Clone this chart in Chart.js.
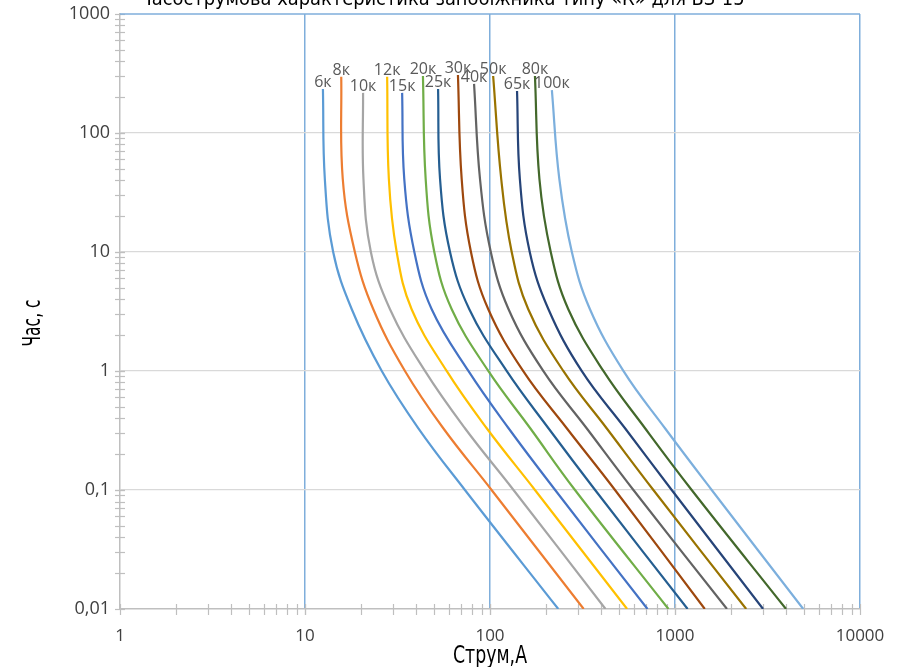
<!DOCTYPE html>
<html>
<head>
<meta charset="utf-8">
<script src="https://cdn.jsdelivr.net/npm/chart.js@4.4.1/dist/chart.umd.min.js"></script>
<style>
  html, body { margin: 0; padding: 0; background: #fff; }
</style>
</head>
<body>
<canvas id="grafik" width="902" height="667"></canvas>
<script>
// назви плавких вставок та кольори кривих
const nazvy = ['6к', '8к', '10к', '12к', '15к', '20к', '25к', '30к', '40к', '50к', '65к', '80к', '100к'];
const kolory = ['#5B9BD5', '#ED7D31', '#A5A5A5', '#FFC000', '#4472C4', '#70AD47', '#255E91',
                '#9E480E', '#636363', '#997300', '#264478', '#43682B', '#7CAFDD'];

// час початку кожної кривої (верхня точка), с
const chasPochatku = [234, 296, 217, 296, 217, 301, 234, 307, 258, 301, 225, 301, 229];
// спільні значення часу для решти точок, с
const chasy = [41, 10, 3.3, 1, 0.33, 0.1, 0.01];

// струм, А: перше значення - верхня точка, далі для кожного значення з "chasy"
const strum6k   = [12.5, 12.8, 14.2, 17.9, 26.0, 41.0, 73.2, 234];
const strum8k   = [15.7, 16.0, 18.6, 23.4, 34.7, 55.9, 102, 321];
const strum10k  = [20.6, 20.7, 22.7, 28.8, 44.5, 73.2, 134, 421];
const strum12k  = [27.8, 28.4, 31.3, 37.7, 58.3, 96.0, 175, 551];
const strum15k  = [33.5, 34.4, 39.0, 48.4, 76.4, 126, 225, 710];
const strum20k  = [43.4, 44.9, 50.0, 62.1, 97.9, 165, 288, 922];
const strum25k  = [52.4, 53.7, 60.8, 77.3, 123, 207, 370, 1170];
const strum30k  = [67.1, 70.3, 78.9, 97.9, 151, 260, 474, 1449];
const strum40k  = [82, 88.3, 101, 126, 194, 333, 596, 1910];
const strum50k  = [104, 115, 131, 161, 249, 427, 764, 2426];
const strum65k  = [140, 145, 164, 207, 313, 537, 960, 2993];
const strum80k  = [175, 185, 213, 265, 410, 689, 1231, 3984];
const strum100k = [216, 237, 277, 347, 526, 883, 1579, 4935];

const strumy = [strum6k, strum8k, strum10k, strum12k, strum15k, strum20k, strum25k,
                strum30k, strum40k, strum50k, strum65k, strum80k, strum100k];

const nazvaGrafika = 'Часострумова характеристика запобіжника типу «К» для ВЗ-15';
const nazvaX = 'Струм,А';
const nazvaY = 'Час, с';

const vuzkyi = "'DejaVu Sans', sans-serif";
const zvychainyi = "'Open Sans', 'Noto Sans', sans-serif";

const cheDesyatok = v => Math.abs(Math.log10(v) - Math.round(Math.log10(v))) < 1e-6;

const datasets = strumy.map((s, i) => ({
  label: nazvy[i],
  data: s.map((a, j) => ({ x: a, y: j === 0 ? chasPochatku[i] : chasy[j - 1] })),
  borderColor: kolory[i],
  backgroundColor: kolory[i],
  borderWidth: 2.2,
  pointRadius: 0,
  showLine: true,
  fill: false,
  tension: 0.4
}));

// вузький текст: стискаємо по горизонталі до потрібної ширини
const vuzkyiTekst = (ctx, tekst, x, y, rozmir, shyryna, kut) => {
  ctx.save();
  ctx.font = rozmir + 'px ' + vuzkyi;
  const w = ctx.measureText(tekst).width;
  ctx.translate(x, y);
  if (kut) ctx.rotate(kut);
  ctx.scale(shyryna / w, 1);
  ctx.textAlign = 'center';
  ctx.textBaseline = 'alphabetic';
  ctx.fillStyle = '#000';
  ctx.fillText(tekst, 0, 0);
  ctx.restore();
};

// дрібні поділки на осях, верхня рамка, підписи кривих та заголовки
const dodatky = {
  id: 'dodatky',
  beforeDatasetsDraw(chart) {
    const { ctx, chartArea, scales } = chart;
    ctx.save();
    ctx.strokeStyle = '#BFBFBF';
    ctx.lineWidth = 1.2;
    for (let d = 1; d <= 1000; d *= 10) {
      for (let m = 1; m <= 10; m++) {
        const px = Math.round(scales.x.getPixelForValue(d * m)) + 0.5;
        ctx.beginPath();
        ctx.moveTo(px, chartArea.bottom - 5);
        ctx.lineTo(px, chartArea.bottom + 6);
        ctx.stroke();
      }
    }
    for (let d = 0.01; d < 999; d *= 10) {
      for (let m = 1; m <= 10; m++) {
        const py = Math.round(scales.y.getPixelForValue(d * m)) + 0.5;
        ctx.beginPath();
        ctx.moveTo(chartArea.left - 5, py);
        ctx.lineTo(chartArea.left + 5, py);
        ctx.stroke();
      }
    }
    ctx.strokeStyle = '#7FAEDB';
    ctx.lineWidth = 1.5;
    ctx.beginPath();
    ctx.moveTo(chartArea.left, chartArea.top);
    ctx.lineTo(chartArea.right, chartArea.top);
    ctx.stroke();
    ctx.restore();
  },
  afterDatasetsDraw(chart) {
    const { ctx } = chart;
    ctx.save();
    ctx.font = '16px ' + zvychainyi;
    ctx.fillStyle = '#595959';
    ctx.textAlign = 'center';
    ctx.textBaseline = 'alphabetic';
    chart.data.datasets.forEach((ds, i) => {
      const p = chart.getDatasetMeta(i).data[0];
      ctx.fillText(ds.label, p.x, p.y - 2);
    });
    ctx.restore();
    vuzkyiTekst(ctx, nazvaGrafika, 442, 5, 20, 605, 0);
    vuzkyiTekst(ctx, nazvaX, 490, 663, 24, 74, 0);
    vuzkyiTekst(ctx, nazvaY, 40, 323, 24, 47, -Math.PI / 2);
  }
};

new Chart(document.getElementById('grafik'), {
  type: 'scatter',
  data: { datasets },
  options: {
    responsive: false,
    animation: false,
    devicePixelRatio: 1,
    layout: { padding: { top: 0, right: 42, left: 0, bottom: 0 } },
    plugins: {
      legend: { display: false },
      tooltip: { enabled: false }
    },
    scales: {
      x: {
        type: 'logarithmic',
        min: 1,
        max: 10000,
        grid: {
          drawTicks: false,
          lineWidth: 1.5,
          color: c => (c.tick && cheDesyatok(c.tick.value) && c.tick.value > 1) ? '#7FAEDB' : 'rgba(0,0,0,0)'
        },
        border: { color: '#BFBFBF', width: 1.5 },
        ticks: {
          autoSkip: false,
          maxRotation: 0,
          padding: 17,
          color: '#404040',
          font: { family: zvychainyi, size: 17 },
          callback: v => cheDesyatok(v) ? String(Math.round(v)) : ''
        },
        afterFit: s => { s.height = 58; }
      },
      y: {
        type: 'logarithmic',
        min: 0.01,
        max: 1000,
        grid: {
          drawTicks: true,
          tickLength: 6,
          tickColor: 'rgba(0,0,0,0)',
          lineWidth: 1.3,
          color: c => {
            if (!c.tick) return 'rgba(0,0,0,0)';
            const v = c.tick.value;
            return (cheDesyatok(v) && v > 0.05 && v < 500) ? '#D9D9D9' : 'rgba(0,0,0,0)';
          }
        },
        border: { color: '#BFBFBF', width: 1.5 },
        ticks: {
          autoSkip: false,
          padding: 4,
          color: '#404040',
          font: { family: zvychainyi, size: 18, lineHeight: 1.1 },
          callback: v => cheDesyatok(v) ? String(+v.toPrecision(3)).replace('.', ',') : ''
        },
        afterFit: s => { s.width = 120; }
      }
    }
  },
  plugins: [dodatky]
});
</script>
</body>
</html>
